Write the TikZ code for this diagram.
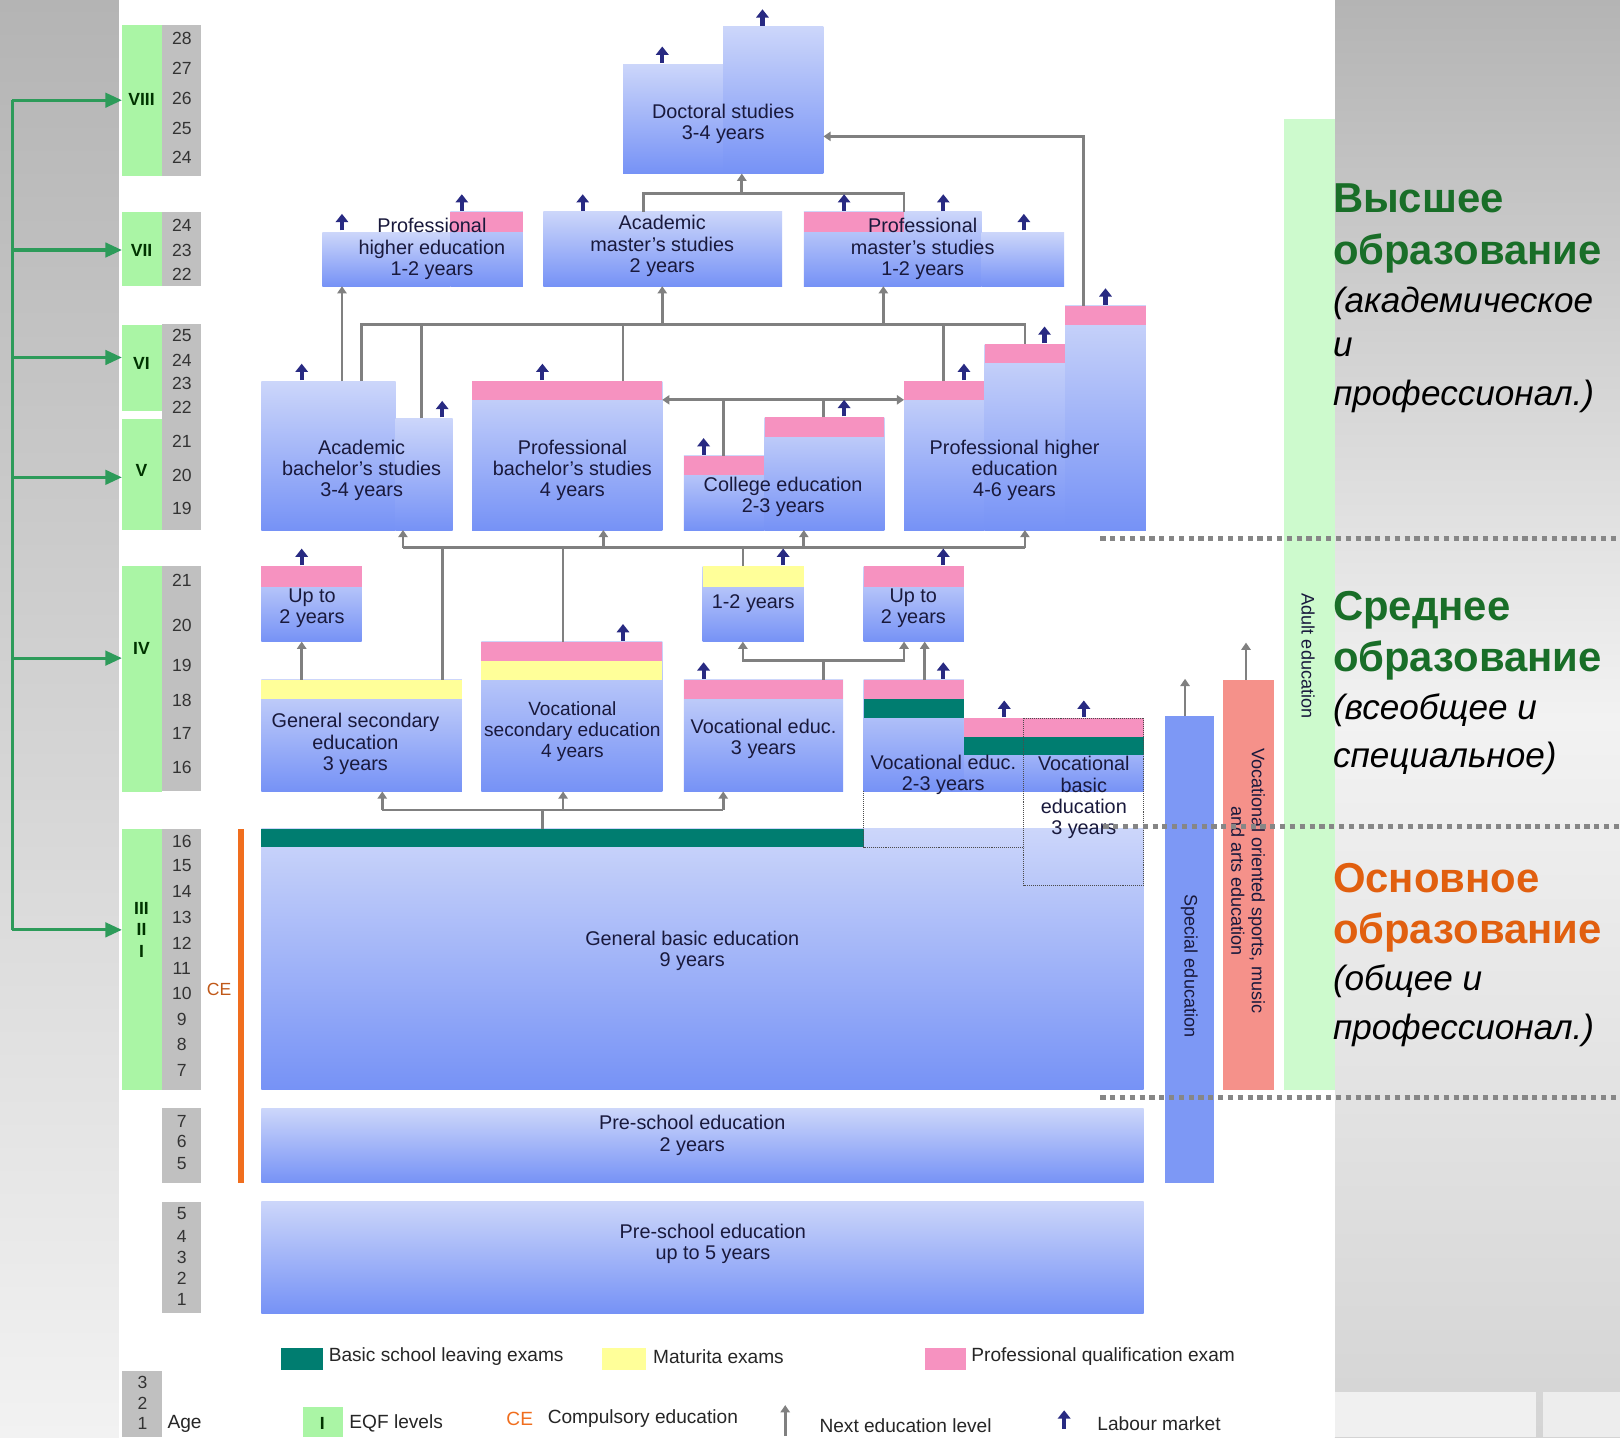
\documentclass[tikz,border=0pt]{standalone}
\usepackage{fontspec}
\setmainfont{Liberation Sans}
\usetikzlibrary{arrows.meta}

\definecolor{boxtop}{RGB}{204,214,250}
\definecolor{boxbot}{RGB}{118,146,246}
\definecolor{exampink}{RGB}{246,146,192}
\definecolor{matyel}{RGB}{255,255,153}
\definecolor{basteal}{RGB}{0,125,112}
\definecolor{eqfgreen}{RGB}{170,245,165}
\definecolor{agegray}{RGB}{192,192,192}
\definecolor{linkgray}{RGB}{128,128,128}
\definecolor{labnavy}{RGB}{40,42,130}
\definecolor{cebar}{RGB}{240,110,30}
\definecolor{specblue}{RGB}{125,152,245}
\definecolor{artsred}{RGB}{245,145,138}
\definecolor{adultgreen}{RGB}{205,250,205}
\definecolor{ruGreen}{RGB}{25,110,40}
\definecolor{ruOrange}{RGB}{225,95,15}
\definecolor{txtnavy}{RGB}{25,25,60}
\definecolor{arrgreen}{RGB}{45,155,90}
\definecolor{bgdark}{RGB}{180,180,180}
\definecolor{bglight}{RGB}{242,242,242}
\definecolor{bgmid}{RGB}{212,212,212}

\tikzset{
  blk/.style={inner sep=0pt, outer sep=0pt, top color=boxtop, bottom color=boxbot, draw=none},
  lbl/.style={align=center, text=txtnavy, font=\fontsize{19.2}{20.5}\selectfont, inner sep=0pt},
  leg/.style={anchor=west, text=black!85, font=\fontsize{18.5}{20.5}\selectfont, inner sep=0pt},
  link/.style={draw=linkgray, line width=2.6pt},
  nxt/.style={link, -{Triangle[width=9pt,length=7pt]}},
  lab/.style={draw=labnavy, line width=4pt, -{Triangle[width=12pt,length=8pt]}},
  garr/.style={draw=arrgreen, line width=3pt, -{Triangle[width=14pt,length=16pt]}},
  agenum/.style={font=\fontsize{17}{17}\selectfont, text=black!80, inner sep=0pt},
  eqfnum/.style={font=\fontsize{17}{17}\bfseries\selectfont, text=black!80!green, inner sep=0pt},
  hd/.style={anchor=base west, inner sep=0pt, font=\fontsize{40.5}{48}\bfseries\selectfont},
  sub/.style={anchor=base west, inner sep=0pt, font=\fontsize{34}{40}\itshape\selectfont},
  secline/.style={draw=gray!95, line width=5pt, dash pattern=on 5pt off 4.5pt},
  bgpanel/.style={inner sep=0pt, outer sep=0pt, draw=none, anchor=north west}
}

% box part: name, x, y (top left), width, height
\newcommand{\blok}[5]{\node[blk, anchor=north west, minimum width=#4pt, minimum height=#5pt] (#1) at (#2,#3) {};}
\newcommand{\band}[5]{\fill[#1] (#2,#3) rectangle ++(#4,#5);}

\begin{document}
\begin{tikzpicture}[x=1pt,y=-1pt]
\useasboundingbox (0,0) rectangle (1568,1391);

% backgrounds
\node[bgpanel, top color=bgdark, bottom color=bglight, minimum width=115pt, minimum height=1391pt] (leftbg) at (0,0) {};
\node[bgpanel, top color=bgdark, bottom color=bgmid, middle color=bglight, minimum width=276pt, minimum height=1391pt] (rightbg) at (1292,0) {};
\fill[gray!12] (1292,1347) rectangle (1487,1391);
\fill[gray!14] (1493,1347) rectangle (1568,1391);
\fill[white] (115,0) rectangle (1292,1391);

% EQF levels and ages
\foreach \ya/\yb in {24/170, 205/277, 314/513, 548/766, 802/1055, 1072/1145, 1163/1271}
  \fill[agegray] (157,\ya) rectangle (195,\yb);
\node[fill=eqfgreen, inner sep=0pt, anchor=north west, minimum width=39pt, minimum height=146pt] (eqfviii) at (118,24) {};
\node[fill=eqfgreen, inner sep=0pt, anchor=north west, minimum width=39pt, minimum height=72pt] (eqfvii) at (118,205) {};
\node[fill=eqfgreen, inner sep=0pt, anchor=north west, minimum width=39pt, minimum height=84pt] (eqfvi) at (118,314) {};
\node[fill=eqfgreen, inner sep=0pt, anchor=north west, minimum width=39pt, minimum height=108pt] (eqfv) at (118,405) {};
\node[fill=eqfgreen, inner sep=0pt, anchor=north west, minimum width=39pt, minimum height=218pt] (eqfiv) at (118,548) {};
\node[fill=eqfgreen, inner sep=0pt, anchor=north west, minimum width=39pt, minimum height=253pt] (eqfi) at (118,802) {};
\node[eqfnum] at (137,96) {VIII};
\node[eqfnum] at (137,242) {VII};
\node[eqfnum] at (137,352) {VI};
\node[eqfnum] at (137,455) {V};
\node[eqfnum] at (137,628) {IV};
\node[eqfnum, align=center, font=\fontsize{17}{20.5}\bfseries\selectfont] at (137,900) {III\\II\\I};
\foreach \a/\y in {28/37, 27/66, 26/95, 25/124, 24/152, 24/218, 23/242, 22/266,
  25/325, 24/349, 23/371, 22/394, 21/427, 20/460, 19/492,
  21/562, 20/605, 19/644, 18/678, 17/710, 16/743,
  16/814, 15/838, 14/863, 13/888, 12/913, 11/937, 10/962, 9/987, 8/1011, 7/1036,
  7/1085, 6/1105, 5/1126, 5/1175, 4/1197, 3/1217, 2/1237, 1/1258}
  \node[agenum] at (176,\y) {\a};

% green arrows to the levels
\draw[arrgreen, line width=3pt] (12,97) -- (12,900);
\draw[garr] (12,97) -- (eqfviii.west |- 0,97);
\draw[garr] (12,242) -- (eqfvii.west |- 0,242);
\draw[garr] (12,346) -- (eqfvi.west |- 0,346);
\draw[garr] (12,462) -- (eqfv.west |- 0,462);
\draw[garr] (12,637) -- (eqfiv.west |- 0,637);
\draw[garr] (12,900) -- (eqfi.west |- 0,900);

% compulsory education
\fill[cebar] (230,802) rectangle (236,1145);
\node[agenum, text=cebar!80!black] at (212,958) {CE};

% side columns
\node[fill=adultgreen, inner sep=0pt, anchor=north west, minimum width=49pt, minimum height=940pt] (adult) at (1243,115) {};
\node[fill=specblue, inner sep=0pt, anchor=north west, minimum width=48pt, minimum height=452pt] (spec) at (1127,693) {};
\node[fill=artsred, inner sep=0pt, anchor=north west, minimum width=49pt, minimum height=397pt] (varts) at (1184,658) {};

% doctoral and master level
\blok{doca}{603}{62}{97}{106}
\blok{docb}{700}{26}{97}{142}
\blok{phea}{312}{225}{124}{52}
\blok{pheb}{436}{205}{70}{72}
\band{exampink}{436}{205}{70}{20}
\blok{amas}{526}{205}{231}{72}
\blok{pmasa}{778}{205}{97}{72}
\band{exampink}{778}{205}{97}{20}
\blok{pmasb}{875}{205}{75}{72}
\blok{pmasc}{950}{225}{80}{52}

% bachelor level
\blok{abacha}{253}{369}{130}{144}
\blok{abachb}{383}{405}{55}{108}
\blok{pbach}{457}{369}{184}{144}
\band{exampink}{457}{369}{184}{18}
\blok{cola}{662}{441}{78}{72}
\band{exampink}{662}{441}{78}{19}
\blok{colb}{740}{404}{116}{109}
\band{exampink}{740}{404}{116}{19}
\blok{pheda}{875}{369}{78}{144}
\band{exampink}{875}{369}{78}{18}
\blok{phedb}{953}{333}{78}{180}
\band{exampink}{953}{333}{78}{18}
\blok{phedc}{1031}{296}{78}{217}
\band{exampink}{1031}{296}{78}{19}

% secondary level
\blok{upa}{253}{548}{97}{73}
\band{exampink}{253}{548}{97}{20}
\blok{gsec}{253}{658}{194}{108}
\band{matyel}{253}{658}{194}{19}
\blok{vsec}{466}{621}{175}{145}
\band{exampink}{466}{621}{175}{19}
\band{matyel}{466}{640}{175}{18}
\blok{vthree}{662}{658}{154}{108}
\band{exampink}{662}{658}{154}{19}
\blok{yonetwo}{680}{548}{98}{73}
\band{matyel}{680}{548}{98}{20}
\blok{upb}{836}{548}{97}{73}
\band{exampink}{836}{548}{97}{20}
\blok{vtwoa}{836}{658}{97}{108}
\band{exampink}{836}{658}{97}{19}
\band{basteal}{836}{677}{97}{18}
\blok{vtwob}{933}{695}{58}{71}
\blok{vbas}{991}{695}{116}{71}
\band{exampink}{933}{695}{174}{18}
\band{basteal}{933}{713}{174}{18}

% basic and pre-school
\blok{gbas}{253}{802}{854}{253}
\band{basteal}{253}{802}{583}{18}
\blok{pretwo}{253}{1073}{854}{72}
\blok{prefive}{253}{1163}{854}{108}

% dotted outlines
\draw[densely dotted, black!70, line width=0.9pt] (vtwoa.south west) -- (836,820) -- (991,820);
\draw[densely dotted, black!70, line width=0.9pt] (vbas.north west) rectangle (1107,857);

% next education level
\draw[link] (amas.north -| 623,0) -- (623,187) -| (pmasa.north east);
\draw[nxt] (718,187) -- (docb.south -| 718,0);
\draw[nxt] (phedc.north -| 1049,0) |- (docb.east |- 0,132);
\draw[nxt] (abacha.north -| 331,0) -- (phea.south -| 331,0);
\draw[link] (abacha.north -| 350,0) |- (992,314) -- (phedb.north -| 992,0);
\draw[link] (abachb.north -| 408,0) -- (408,314);
\draw[link] (pbach.north -| 603,0) -- (603,314);
\draw[link] (pheda.north -| 913,0) -- (913,314);
\draw[nxt] (641,314) -- (amas.south -| 641,0);
\draw[nxt] (855,314) -- (pmasa.south -| 855,0);
\draw[nxt] (cola.north -| 700,0) |- (pbach.east |- 0,387);
\draw[nxt] (700,387) -- (pheda.west |- 0,387);
\draw[link] (colb.north -| 797,0) -- (797,387);
\draw[link] (390,530) -- (992,530);
\draw[nxt] (390,530) -- (abachb.south -| 390,0);
\draw[nxt] (584,530) -- (pbach.south -| 584,0);
\draw[nxt] (778,530) -- (colb.south -| 778,0);
\draw[nxt] (992,530) -- (phedb.south -| 992,0);
\draw[link] (gsec.north -| 428,0) -- (428,530);
\draw[link] (vsec.north -| 545,0) -- (545,530);
\draw[link] (yonetwo.north -| 719,0) -- (719,530);
\draw[nxt] (gsec.north -| 292,0) -- (upa.south -| 292,0);
\draw[link] (vthree.north -| 797,0) -- (797,639);
\draw[nxt] (797,639) -| (yonetwo.south -| 719,0);
\draw[nxt] (797,639) -| (upb.south -| 875,0);
\draw[nxt] (vtwoa.north -| 895,0) -- (upb.south -| 895,0);
\draw[link] (gbas.north -| 525,0) -- (525,784);
\draw[link] (370,784) -- (700,784);
\draw[nxt] (370,784) -- (gsec.south -| 370,0);
\draw[nxt] (545,784) -- (vsec.south -| 545,0);
\draw[nxt] (700,784) -- (vthree.south -| 700,0);
\draw[nxt] (spec.north -| 1147,0) -- ++(0,-36);
\draw[nxt] (varts.north -| 1206,0) -- ++(0,-36);

% labour market
\foreach \x/\y in {641/61, 738/25, 331/223, 447/204, 564/204, 817/204, 913/204, 991/223,
  292/368, 428/404, 525/368, 681/440, 817/403, 933/368, 1011/332, 1070/295,
  292/547, 758/547, 913/547, 603/620, 681/657, 913/657, 972/694, 1049/694}
  \draw[lab] (\x,\y) -- ++(0,-16);

% box texts
\node[lbl] (docT) at (700,120) {Doctoral studies\\3-4 years};
\node[lbl] (pheT) at (418,241) {Professional\\higher education\\1-2 years};
\node[lbl] (amasT) at (641,238) {Academic\\master's studies\\2 years};
\node[lbl] (pmasT) at (893,241) {Professional\\master's studies\\1-2 years};
\node[lbl] (abachT) at (350,455) {Academic\\bachelor's studies\\3-4 years};
\node[lbl] (pbachT) at (554,455) {Professional\\bachelor's studies\\4 years};
\node[lbl] (colT) at (758,481) {College education\\2-3 years};
\node[lbl] (phedT) at (982,455) {Professional higher\\education\\4-6 years};
\node[lbl] (upaT) at (302,589) {Up to\\2 years};
\node[lbl] (gsecT) at (344,720) {General secondary\\education\\3 years};
\node[lbl, font=\fontsize{18.5}{20.5}\selectfont] (vsecT) at (554,708) {Vocational\\secondary education\\4 years};
\node[lbl] (vthreeT) at (739,715) {Vocational educ.\\3 years};
\node[lbl] (yonetwoT) at (729,584) {1-2 years};
\node[lbl] (upbT) at (884,589) {Up to\\2 years};
\node[lbl] (vtwoT) at (913,750) {Vocational educ.\\2-3 years};
\node[lbl] (vbasT) at (1049,772) {Vocational\\basic\\education\\3 years};
\node[lbl] (gbasT) at (670,920) {General basic education\\9 years};
\node[lbl] (pretwoT) at (670,1099) {Pre-school education\\2 years};
\node[lbl] (prefiveT) at (690,1204) {Pre-school education\\up to 5 years};
\node[lbl, rotate=-90, font=\fontsize{17.5}{20}\selectfont] (specT) at (1151,935) {Special education};
\node[lbl, rotate=-90, font=\fontsize{17.5}{20}\selectfont] (vartsT) at (1208,853) {Vocational oriented sports, music\\and arts education};
\node[lbl, rotate=-90, font=\fontsize{17.5}{20}\selectfont] (adultT) at (1266,635) {Adult education};

% section borders
\draw[secline] (1065,521) -- (1568,521);
\draw[secline] (1068,800) -- (1568,800);
\draw[secline] (1065,1062) -- (1568,1062);

% legend
\fill[basteal] (272,1305) rectangle (313,1326);
\node[leg] at (318,1313) {Basic school leaving exams};
\fill[matyel] (583,1305) rectangle (625,1326);
\node[leg] at (632,1313) {Maturita exams};
\fill[exampink] (895,1305) rectangle (935,1326);
\node[leg] at (940,1313) {Professional qualification exam};
\fill[agegray] (118,1327) rectangle (157,1391);
\node[agenum, align=center, font=\fontsize{17}{20}\selectfont] at (138,1358) {3\\2\\1};
\node[leg] at (162,1378) {Age};
\fill[eqfgreen] (293,1362) rectangle (332,1391);
\node[eqfnum] at (312,1378) {I};
\node[leg] at (338,1378) {EQF levels};
\node[leg, text=cebar] at (490,1373) {CE};
\node[leg] at (530,1373) {Compulsory education};
\draw[nxt] (760,1390) -- (760,1360);
\node[leg] at (793,1380) {Next education level};
\draw[lab] (1030,1383) -- (1030,1365);
\node[leg] at (1062,1378) {Labour market};

% levels of education
\node[hd, text=ruGreen] at (1290,206) {Высшее};
\node[hd, text=ruGreen] at (1290,256) {образование};
\node[sub] at (1290,302) {(академическое};
\node[sub] at (1290,345) {и};
\node[sub] at (1290,392) {профессионал.)};
\node[hd, text=ruGreen] at (1290,601) {Среднее};
\node[hd, text=ruGreen] at (1290,650) {образование};
\node[sub] at (1290,696) {(всеобщее и};
\node[sub] at (1290,743) {специальное)};
\node[hd, text=ruOrange] at (1290,864) {Основное};
\node[hd, text=ruOrange] at (1290,913) {образование};
\node[sub] at (1290,959) {(общее и};
\node[sub] at (1290,1006) {профессионал.)};
\end{tikzpicture}
\end{document}
